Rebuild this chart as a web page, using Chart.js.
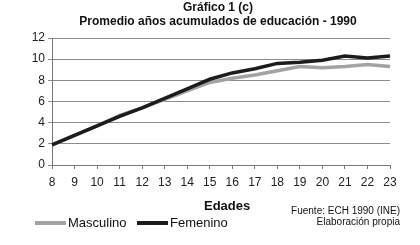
<!DOCTYPE html>
<html>
<head>
<meta charset="utf-8">
<script src="https://cdn.jsdelivr.net/npm/chart.js@4/dist/chart.umd.min.js"></script>
<style>
  body { margin: 0; background: #fff; font-family: 'Liberation Sans', Arial, sans-serif; }
  #wrap { position: relative; width: 420px; height: 245px; }
  canvas { position: absolute; left: 0; top: 0; }
  .title { position: absolute; left: 0; width: 436px; text-align: center; font-weight: bold; font-size: 12px; color: #111; }
  .edades { position: absolute; left: 204px; top: 198px; font-weight: bold; font-size: 13px; color: #111; }
  .leg { position: absolute; top: 215px; font-size: 13px; color: #111; }
  .leg span.sw { display: inline-block; width: 31px; height: 4px; vertical-align: middle; margin-right: 2px; position: relative; top: -1px; }
  .src { position: absolute; right: 20px; top: 205px; text-align: right; font-size: 10px; line-height: 11px; color: #111; }
</style>
</head>
<body>
<div id="wrap">
  <canvas id="chart" width="420" height="245"></canvas>
  <div class="title" style="top:0px">Gráfico 1 (c)</div>
  <div class="title" style="top:14px">Promedio años acumulados de educación - 1990</div>
  <div class="edades">Edades</div>
  <div class="leg" style="left:35px"><span class="sw" style="background:#a3a3a3"></span>Masculino</div>
  <div class="leg" style="left:137px"><span class="sw" style="background:#1c1c1c"></span>Femenino</div>
  <div class="src">Fuente: ECH 1990 (INE)<br>Elaboración propia</div>
</div>
<script>
const edades = ['8', '9', '10', '11', '12', '13', '14', '15', '16', '17', '18', '19', '20', '21', '22', '23'];
const masculino = [1.9, 2.8, 3.7, 4.7, 5.4, 6.2, 7.0, 7.8, 8.2, 8.5, 8.9, 9.3, 9.2, 9.3, 9.5, 9.3];
const femenino = [1.9, 2.8, 3.7, 4.6, 5.4, 6.3, 7.2, 8.1, 8.7, 9.1, 9.6, 9.7, 9.9, 10.3, 10.1, 10.3];

const tickFont = { family: "'Liberation Sans', Arial, sans-serif", size: 12 };

new Chart(document.getElementById('chart'), {
  type: 'line',
  data: {
    labels: edades,
    datasets: [
      { label: 'Femenino', data: femenino, borderColor: '#1c1c1c', borderWidth: 3.5, pointRadius: 0, tension: 0, order: 0 },
      { label: 'Masculino', data: masculino, borderColor: '#a3a3a3', borderWidth: 3.5, pointRadius: 0, tension: 0, order: 1 }
    ]
  },
  options: {
    responsive: false,
    animation: false,
    layout: { padding: { top: 38, right: 30, left: 0, bottom: 0 } },
    plugins: { legend: { display: false }, title: { display: false }, tooltip: { enabled: false } },
    scales: {
      x: {
        offset: false,
        grid: { drawOnChartArea: false, color: '#777', tickLength: 4 },
        border: { color: '#777' },
        ticks: { color: '#222', font: tickFont, padding: 6, maxRotation: 0, autoSkip: false },
        afterFit: s => { s.height = 80; }
      },
      y: {
        min: 0,
        max: 12,
        grid: { color: '#8c8c8c', tickLength: 4 },
        border: { color: '#777' },
        ticks: { stepSize: 2, color: '#222', font: tickFont, padding: 3 },
        afterFit: s => { s.width = 52; }
      }
    }
  }
});
</script>
</body>
</html>
